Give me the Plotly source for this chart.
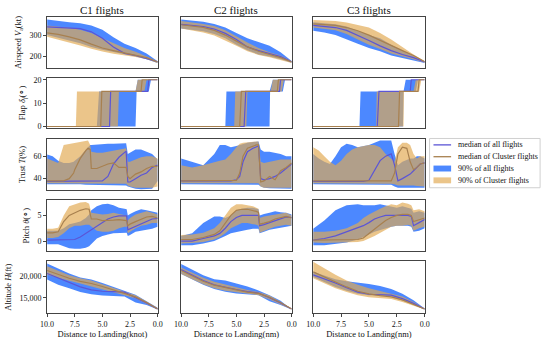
import plotly.graph_objects as go
from plotly.subplots import make_subplots

# ---------------- text ----------------
cluster_titles = ["C1 flights", "C2 flights", "C3 flights"]
x_titles = ["Distance to Landing(knot)", "Distance to Landing(nm)", "Distance to Landing(nm)"]
y_titles = ["Airspeed <i>V</i><sub>a</sub>(kt)", "Flap <i>δ<sub>f</sub></i>(∘)", "Trust <i>T</i>(%)",
            "Pitch <i>θ</i>(∘)", "Altitude <i>H</i>(ft)"]
x_tickvals = [10.0, 7.5, 5.0, 2.5, 0.0]
x_ticktext = ["10.0", "7.5", "5.0", "2.5", "0.0"]
y_tickvals = [[200, 300], [0, 10, 20], [40, 60], [0, 5], [15000, 20000]]
y_ticktext = [["200", "300"], ["0", "10", "20"], ["40", "60"], ["0", "5"], ["15,000", "20,000"]]
y_ranges = [[147, 385], [-0.7, 20.8], [29.7, 75.3], [-2.0, 8.0], [11380, 23460]]
legend_labels = ["median of all flights", "median of Cluster flights", "90% of all flights", "90% of Cluster flights"]

# ---------------- airspeed (kt) ----------------
airspeed_x = [10, 9, 8, 7, 6, 5, 4, 3, 2, 1, 0]
air_all_hi = [[372, 365, 360, 355, 345, 325, 290, 260, 240, 215, 178],
              [372, 368, 362, 352, 335, 310, 285, 268, 250, 220, 180],
              [360, 356, 350, 340, 320, 300, 285, 255, 230, 205, 178]]
air_all_lo = [[300, 288, 275, 262, 245, 232, 222, 210, 200, 188, 170],
              [330, 325, 318, 305, 285, 255, 230, 210, 200, 188, 172],
              [320, 312, 300, 280, 260, 240, 225, 205, 192, 182, 170]]
air_cl_hi = [[345, 340, 334, 325, 310, 285, 262, 240, 222, 200, 178],
             [365, 360, 352, 342, 322, 295, 265, 240, 220, 205, 180],
             [370, 368, 365, 358, 348, 335, 310, 280, 245, 210, 180]]
air_cl_lo = [[292, 280, 266, 252, 236, 224, 213, 205, 198, 188, 170],
             [330, 322, 312, 298, 275, 250, 225, 208, 197, 185, 170],
             [335, 330, 322, 305, 280, 255, 235, 215, 200, 188, 172]]
air_all_med = [[338, 335, 333, 330, 315, 285, 245, 215, 205, 192, 176],
               [350, 345, 340, 328, 308, 280, 245, 228, 215, 200, 176],
               [345, 340, 335, 322, 300, 275, 250, 228, 210, 195, 175]]
air_cl_med = [[310, 303, 292, 278, 258, 240, 228, 217, 207, 195, 175],
              [348, 342, 336, 322, 300, 272, 245, 225, 210, 195, 175],
              [352, 348, 345, 335, 320, 300, 275, 250, 228, 205, 176]]

# ---------------- flap (deg), step vertices (distance, value) ----------------
flap_all_hi = [[(10, 0), (5.5, 0), (5.3, 15), (2.0, 15), (1.8, 20), (0, 20)],
               [(10, 0), (6.0, 0), (5.9, 15), (2.0, 15), (1.7, 20), (0, 20)],
               [(10, 0), (5.85, 0), (5.75, 15), (1.9, 15), (1.7, 20), (0, 20)]]
flap_all_lo = [[(10, 0), (2.0, 0), (1.9, 15), (0.8, 15), (0.6, 20), (0, 20)],
               [(10, 0), (2.0, 0), (1.95, 15), (0.8, 15), (0.6, 20), (0, 20)],
               [(10, 0), (1.95, 0), (1.9, 15), (0.8, 15), (0.6, 20), (0, 20)]]
flap_cl_hi = [[(10, 0), (7.4, 0), (7.3, 15), (2.0, 15), (1.8, 20), (0, 20)],
              [(10, 0), (5.2, 0), (5.1, 15), (1.9, 15), (1.7, 20), (0, 20)],
              [(10, 0), (4.35, 0), (4.3, 15), (1.0, 15), (0.8, 20), (0, 20)]]
flap_cl_lo = [[(10, 0), (3.6, 0), (3.5, 15), (1.2, 15), (1.0, 20), (0, 20)],
              [(10, 0), (4.1, 0), (4.0, 15), (0.9, 15), (0.7, 20), (0, 20)],
              [(10, 0), (1.9, 0), (1.85, 15), (0.5, 15), (0.3, 20), (0, 20)]]
flap_all_med = [[(10, 0), (4.35, 0), (4.25, 15), (0.9, 15), (0.8, 20), (0, 20)],
                [(10, 0), (4.3, 0), (4.15, 15), (1.1, 15), (1.0, 20), (0, 20)],
                [(10, 0), (4.25, 0), (4.1, 15), (1.3, 15), (1.2, 20), (0, 20)]]
flap_cl_med = [[(10, 0), (5.15, 0), (5.05, 15), (1.5, 15), (1.4, 20), (0, 20)],
               [(10, 0), (4.7, 0), (4.55, 15), (1.3, 15), (1.2, 20), (0, 20)],
               [(10, 0), (2.35, 0), (2.25, 15), (0.6, 15), (0.5, 20), (0, 20)]]

# ---------------- thrust (%) ----------------
thrust_x = [[10, 9.5, 9, 8.5, 8, 7.6, 7.5, 7, 6.5, 6.3, 6.1, 6, 5.5, 5, 4.5, 4, 3.5, 3, 2.85, 2.7, 2.5, 2, 1.5, 1, 0.5, 0],
            [10, 9, 8, 7, 6.5, 6, 5.5, 5, 4.7, 4.4, 4, 3.5, 3.2, 3.0, 2.8, 2.5, 2, 1.5, 1, 0.5, 0],
            [10, 9.5, 9, 8.5, 8, 7.5, 7, 6.5, 6, 5.5, 5, 4.5, 4, 3.5, 3, 2.7, 2.4, 2, 1.6, 1.3, 1, 0.7, 0.4, 0]]
thr_all_hi = [[61.5, 60, 56, 54, 54, 55, 56, 60, 66, 68, 70, 70, 70.5, 71, 71, 71, 71, 71.5, 71.5, 62, 63, 66, 66, 64, 62, 57],
              [58, 55, 52, 62, 70, 70, 68, 69, 70, 71, 72, 72.5, 73, 73, 66, 64, 64, 63, 62, 60, 60],
              [62, 58, 55, 53, 60, 68, 71, 70, 68, 69, 70, 72, 74, 74, 74, 62, 52, 55, 57, 58, 58, 60, 60, 58]]
thr_all_lo = [[35, 35, 35, 35, 35, 35, 35, 35, 34.5, 34.5, 34.5, 34.5, 34.5, 34.5, 34.5, 34, 34, 34, 34, 33, 32, 31, 30.5, 30.5, 31, 38],
              [35, 35, 35, 35, 35, 35, 35, 35, 35, 35, 35, 34.5, 34.5, 34.5, 33, 32, 31.5, 31, 31, 31, 31],
              [35, 35, 35, 35, 35, 35, 35, 35, 35, 35, 34.5, 34.5, 34.5, 34.5, 34.5, 33, 32, 32, 32, 32, 32, 32, 32, 32]]
thr_cl_hi = [[58, 56, 54, 70, 71, 72, 72, 73, 74, 74, 70, 64, 63, 63, 64, 65, 66, 67, 67, 55, 55, 57, 59, 60, 60, 58],
             [52, 50, 52, 55, 56, 57, 62, 68, 71, 72, 72.5, 73, 73, 73, 55, 54, 55, 56, 57, 57, 57],
             [68, 65, 60, 55, 52, 56, 62, 66, 68, 69, 70, 70, 68, 62, 58, 55, 68, 72, 72, 70, 62, 58, 60, 60]]
thr_cl_lo = [[36, 36, 36, 36, 36, 36, 36, 35.5, 35.5, 35.5, 35.5, 35.5, 35.5, 35.5, 35.5, 35.5, 35.5, 35.5, 35.5, 34, 33, 32, 32, 32, 32, 33],
             [36, 36, 36, 36, 36, 36, 36, 36, 36, 36, 36, 36, 36, 36, 33, 32, 32, 32, 32, 32, 32],
             [36, 36, 36, 36, 36, 36, 36, 36, 36, 36, 35.5, 35.5, 35.5, 35.5, 35.5, 35, 34, 34, 34, 34, 34, 33.5, 33, 33]]
thr_all_med = [[37.5, 37.5, 37.5, 37.5, 37.5, 37.5, 37.5, 37.5, 37.5, 37.5, 37.5, 37.5, 37.8, 38, 42, 53, 59, 63, 64.5, 37, 37, 40, 43, 45, 50, 52],
               [38, 38, 38, 38, 38, 38, 38, 39, 42, 55, 64, 67, 68, 69, 40, 39, 40, 42, 45, 49, 53],
               [37.5, 37.5, 37.5, 37.5, 37.5, 37.5, 37.5, 37.5, 37.5, 37.5, 38.5, 47, 56, 60, 62, 52, 38, 40, 42, 44, 47, 50, 53, 54]]
thr_cl_med = [[38, 38, 38, 38, 40, 45, 48, 58, 65, 67, 66, 49, 49, 51, 53, 54, 50, 50, 50, 42, 40, 44, 46, 49, 51, 51],
              [38, 38, 38, 38, 38, 38, 38, 38.5, 45, 60, 67, 69, 70, 70, 37, 38, 42, 39, 47, 50, 54],
              [38, 38, 38, 38, 38, 38, 38, 38, 38, 38, 38, 38, 38, 38, 38, 45, 62, 68, 67, 55, 48, 50, 53, 54]]

# ---------------- pitch (deg) ----------------
pitch_x = [[10, 9.5, 9, 8.5, 8, 7.5, 7, 6.5, 6.2, 6, 5.5, 5, 4.5, 4, 3.5, 3, 2.8, 2.7, 2.5, 2, 1.5, 1, 0.5, 0],
           [10, 9, 8, 7, 6.5, 6, 5.5, 5, 4.5, 4, 3.5, 3.2, 3.0, 2.9, 2.5, 2, 1.5, 1, 0.5, 0],
           [10, 9, 8, 7, 6, 5.5, 5, 4.5, 4, 3.5, 3, 2.5, 2, 1.5, 1.2, 1.0, 0.5, 0]]
pit_all_hi = [[2.0, 2.0, 2.0, 2.5, 3.3, 3.5, 3.8, 4.5, 5.2, 6.0, 6.8, 7.2, 7.3, 7.0, 6.5, 6.3, 6.2, 5.0, 5.3, 5.8, 6.2, 6.0, 5.8, 5.5],
              [1.0, 1.5, 3.5, 4.8, 4.8, 4.5, 5.0, 6.0, 6.3, 6.5, 6.5, 6.3, 6.2, 5.0, 5.3, 5.5, 5.8, 5.6, 5.5, 5.2],
              [2.4, 4.0, 6.0, 7.0, 7.2, 7.0, 7.0, 7.0, 7.2, 7.0, 6.8, 6.5, 6.8, 6.5, 6.3, 5.5, 5.8, 5.5]]
pit_all_lo = [[-0.6, -0.6, -0.6, -1.0, -1.4, -1.5, -1.5, -1.3, -1.0, -0.5, 0.5, 1.0, 1.3, 1.5, 1.6, 1.6, 1.6, 1.0, 1.2, 1.8, 2.0, 2.2, 2.4, 2.8],
              [-0.8, -0.8, -0.5, 0.0, 0.5, 1.0, 1.5, 1.8, 2.0, 2.2, 2.4, 2.4, 2.4, 1.5, 1.8, 2.2, 2.4, 2.6, 2.8, 3.0],
              [-0.8, -0.8, -0.6, -0.3, 0.3, 0.8, 1.3, 1.8, 2.2, 2.5, 2.8, 3.0, 3.0, 3.0, 2.8, 1.8, 2.0, 2.5]]
pit_cl_hi = [[2.4, 2.4, 2.6, 5.0, 6.8, 7.2, 7.5, 7.6, 7.3, 5.5, 5.3, 5.2, 5.3, 5.5, 5.3, 5.0, 5.0, 4.0, 4.5, 5.2, 5.5, 5.8, 5.5, 5.2],
             [1.2, 1.3, 1.6, 2.5, 3.5, 5.0, 6.5, 7.2, 7.2, 7.0, 6.8, 6.5, 6.3, 4.5, 4.8, 5.0, 5.2, 5.4, 5.5, 5.0],
             [1.8, 1.8, 2.0, 2.5, 3.5, 4.5, 5.2, 5.8, 6.3, 6.8, 7.2, 7.0, 7.5, 7.3, 7.0, 6.0, 6.2, 5.8]]
pit_cl_lo = [[0.6, 0.6, 0.8, 1.5, 2.5, 3.0, 3.0, 3.2, 3.2, 2.8, 2.0, 1.8, 1.8, 2.0, 2.5, 2.8, 2.8, 1.5, 1.8, 2.5, 3.0, 3.2, 3.5, 3.5],
             [-0.5, -0.4, -0.2, 0.3, 0.8, 1.5, 2.5, 3.0, 3.5, 3.5, 3.3, 3.2, 3.0, 1.6, 2.0, 2.4, 2.8, 3.0, 3.2, 3.0],
             [-0.3, -0.4, -0.4, -0.3, -0.2, 0.0, 0.5, 1.0, 1.5, 2.2, 2.8, 3.0, 3.0, 3.2, 3.0, 2.0, 2.5, 2.8]]
pit_all_med = [[0.2, 0.2, 0.2, 0.2, 0.2, 0.3, 0.8, 1.5, 2.0, 2.2, 3.0, 3.7, 4.3, 4.7, 4.9, 4.9, 4.9, 2.2, 2.4, 2.8, 3.3, 3.8, 4.3, 4.4],
               [0.0, 0.0, 0.5, 1.0, 1.5, 2.5, 3.8, 4.6, 5.0, 5.0, 5.0, 5.0, 5.0, 3.0, 3.2, 3.6, 4.0, 4.3, 4.7, 4.6],
               [0.2, 0.5, 1.0, 1.8, 2.5, 3.0, 3.6, 4.3, 4.7, 5.0, 5.0, 5.0, 5.0, 5.0, 4.8, 3.0, 3.6, 4.2]]
pit_cl_med = [[1.6, 1.6, 1.8, 3.8, 5.0, 5.5, 6.0, 6.3, 6.2, 4.3, 4.3, 4.0, 4.0, 4.1, 4.2, 4.0, 4.0, 3.0, 3.3, 3.8, 4.2, 4.7, 4.8, 4.5],
              [0.3, 0.3, 0.7, 1.3, 2.0, 3.5, 5.0, 6.0, 6.2, 6.2, 6.0, 5.8, 5.6, 3.3, 3.5, 3.8, 4.3, 4.5, 4.8, 4.5],
              [0.2, 0.2, 0.2, 0.2, 0.3, 0.6, 1.5, 2.4, 3.2, 4.0, 4.6, 5.0, 5.2, 5.2, 5.0, 3.8, 4.2, 4.5]]

# ---------------- altitude (ft) ----------------
altitude_x = [10, 9, 8, 7, 6, 5, 4, 3, 2, 1, 0]
alt_all_hi = [[22900, 21800, 20600, 19700, 19200, 18400, 17500, 16700, 15700, 14200, 12700],
              [22800, 21500, 20200, 19300, 19000, 18300, 17600, 16700, 15600, 14300, 12500],
              [21000, 20100, 19300, 18800, 18500, 18200, 17700, 17000, 15900, 14400, 12500]]
alt_all_lo = [[19200, 18000, 17200, 16300, 15800, 15500, 15400, 15300, 13900, 13300, 12300],
              [20500, 19300, 18000, 17000, 16400, 16000, 15800, 15600, 14200, 13300, 12300],
              [19800, 18600, 17500, 16600, 15900, 15600, 15500, 15300, 14300, 13400, 12300]]
alt_cl_hi = [[22300, 21200, 20200, 19500, 19000, 18100, 17300, 16500, 15600, 14100, 12600],
             [22000, 20800, 19600, 18700, 18000, 17400, 16800, 16300, 15500, 14100, 12500],
             [23300, 21800, 20300, 19000, 18000, 17200, 16600, 16000, 15300, 14000, 12500]]
alt_cl_lo = [[20300, 19600, 18900, 18300, 17700, 17000, 16300, 15600, 14800, 13600, 12300],
             [20500, 19300, 18100, 17200, 16600, 16200, 15900, 15600, 14600, 13500, 12300],
             [19500, 18300, 17200, 16300, 15600, 15100, 14900, 14700, 14000, 13200, 12300]]
alt_all_med = [[20600, 19600, 18600, 17500, 16800, 16500, 16400, 16300, 15000, 13800, 12400],
               [21500, 20200, 19000, 18000, 17400, 16900, 16400, 16100, 15000, 13800, 12400],
               [20300, 19400, 18400, 17300, 16300, 15800, 15700, 15600, 14800, 13700, 12400]]
alt_cl_med = [[21300, 20400, 19500, 18800, 18300, 17600, 16800, 16000, 15200, 13900, 12400],
              [21300, 20000, 18800, 17900, 17300, 16800, 16300, 16000, 15100, 13900, 12400],
              [21000, 19800, 18600, 17500, 16500, 15900, 15500, 15200, 14500, 13500, 12400]]

# ---------------- style ----------------
FONT = "Liberation Serif"
W, H = 550, 342
BLUE_FILL = "rgba(45,115,255,0.85)"
ORANGE_FILL = "rgba(225,170,82,0.68)"
MED_ALL = "#5b55d6"
MED_CL = "#a8804f"
col_px = [(41, 154), (178, 291), (313, 427)]
row_px = [(15, 67), (77, 128), (139, 191), (201, 253), (263, 316)]

fig = make_subplots(rows=5, cols=3)


def band(xh, yh, xl, yl, color, r, c):
    fig.add_trace(go.Scatter(x=list(xh) + list(xl)[::-1], y=list(yh) + list(yl)[::-1],
                             mode="lines", fill="toself", fillcolor=color, line=dict(width=0),
                             hoverinfo="skip", showlegend=False), row=r, col=c)


def curve(x, y, color, r, c):
    fig.add_trace(go.Scatter(x=x, y=y, mode="lines", line=dict(color=color, width=1.2),
                             hoverinfo="skip", showlegend=False), row=r, col=c)


def xs(v):
    return [p[0] for p in v]


def ys(v):
    return [p[1] for p in v]


for c in range(3):
    band(airspeed_x, air_all_hi[c], airspeed_x, air_all_lo[c], BLUE_FILL, 1, c + 1)
    band(airspeed_x, air_cl_hi[c], airspeed_x, air_cl_lo[c], ORANGE_FILL, 1, c + 1)
    curve(airspeed_x, air_all_med[c], MED_ALL, 1, c + 1)
    curve(airspeed_x, air_cl_med[c], MED_CL, 1, c + 1)

    band(xs(flap_all_hi[c]), ys(flap_all_hi[c]), xs(flap_all_lo[c]), ys(flap_all_lo[c]), BLUE_FILL, 2, c + 1)
    band(xs(flap_cl_hi[c]), ys(flap_cl_hi[c]), xs(flap_cl_lo[c]), ys(flap_cl_lo[c]), ORANGE_FILL, 2, c + 1)
    curve(xs(flap_all_med[c]), ys(flap_all_med[c]), MED_ALL, 2, c + 1)
    curve(xs(flap_cl_med[c]), ys(flap_cl_med[c]), MED_CL, 2, c + 1)

    tx = thrust_x[c]
    band(tx, thr_all_hi[c], tx, thr_all_lo[c], BLUE_FILL, 3, c + 1)
    band(tx, thr_cl_hi[c], tx, thr_cl_lo[c], ORANGE_FILL, 3, c + 1)
    curve(tx, thr_all_med[c], MED_ALL, 3, c + 1)
    curve(tx, thr_cl_med[c], MED_CL, 3, c + 1)

    px = pitch_x[c]
    band(px, pit_all_hi[c], px, pit_all_lo[c], BLUE_FILL, 4, c + 1)
    band(px, pit_cl_hi[c], px, pit_cl_lo[c], ORANGE_FILL, 4, c + 1)
    curve(px, pit_all_med[c], MED_ALL, 4, c + 1)
    curve(px, pit_cl_med[c], MED_CL, 4, c + 1)

    band(altitude_x, alt_all_hi[c], altitude_x, alt_all_lo[c], BLUE_FILL, 5, c + 1)
    band(altitude_x, alt_cl_hi[c], altitude_x, alt_cl_lo[c], ORANGE_FILL, 5, c + 1)
    curve(altitude_x, alt_all_med[c], MED_ALL, 5, c + 1)
    curve(altitude_x, alt_cl_med[c], MED_CL, 5, c + 1)

for r in range(5):
    for c in range(3):
        n = r * 3 + c + 1
        xa = "xaxis" if n == 1 else f"xaxis{n}"
        ya = "yaxis" if n == 1 else f"yaxis{n}"
        bottom = (r == 4)
        fig.layout[xa].update(
            domain=[col_px[c][0] / W, col_px[c][1] / W], range=[10, 0],
            showline=True, mirror=True, linecolor="#444", linewidth=1,
            showgrid=False, zeroline=False,
            ticks="outside" if bottom else "", ticklen=3, tickcolor="#444",
            showticklabels=bottom, tickvals=x_tickvals, ticktext=x_ticktext,
            tickfont=dict(size=8, color="#111"))
        if bottom:
            fig.layout[xa].title = dict(text=x_titles[c], font=dict(size=8.5, color="#111"), standoff=2)
        fig.layout[ya].update(
            domain=[1 - row_px[r][1] / H, 1 - row_px[r][0] / H], range=y_ranges[r],
            showline=True, mirror=True, linecolor="#444", linewidth=1,
            showgrid=False, zeroline=False,
            ticks="outside" if c == 0 else "", ticklen=3, tickcolor="#444",
            showticklabels=(c == 0), tickvals=y_tickvals[r], ticktext=y_ticktext[r],
            tickfont=dict(size=8, color="#111"))
        if c == 0:
            fig.layout[ya].title = dict(text=y_titles[r], font=dict(size=8.5, color="#111"), standoff=6)

annotations = []
for c in range(3):
    annotations.append(dict(text=cluster_titles[c], x=(col_px[c][0] + col_px[c][1]) / 2 / W, y=1 - 8 / H,
                            xref="paper", yref="paper", showarrow=False, xanchor="center", yanchor="middle",
                            font=dict(size=11, color="#111")))

# legend box drawn by hand (matches the compact original legend)
shapes = [dict(type="rect", xref="paper", yref="paper", x0=432 / W, x1=545 / W,
               y0=1 - 188.5 / H, y1=1 - 138.5 / H, line=dict(color="#d0d0d0", width=1), fillcolor="white")]
leg_y = [145, 157, 169, 181]
shapes.append(dict(type="line", xref="paper", yref="paper", x0=436 / W, x1=454 / W,
                   y0=1 - leg_y[0] / H, y1=1 - leg_y[0] / H, line=dict(color=MED_ALL, width=1.3)))
shapes.append(dict(type="line", xref="paper", yref="paper", x0=436 / W, x1=454 / W,
                   y0=1 - leg_y[1] / H, y1=1 - leg_y[1] / H, line=dict(color=MED_CL, width=1.3)))
shapes.append(dict(type="rect", xref="paper", yref="paper", x0=436 / W, x1=454 / W,
                   y0=1 - (leg_y[2] + 3) / H, y1=1 - (leg_y[2] - 3) / H, line=dict(width=0), fillcolor=BLUE_FILL))
shapes.append(dict(type="rect", xref="paper", yref="paper", x0=436 / W, x1=454 / W,
                   y0=1 - (leg_y[3] + 3) / H, y1=1 - (leg_y[3] - 3) / H, line=dict(width=0), fillcolor=ORANGE_FILL))
for i, lab in enumerate(legend_labels):
    annotations.append(dict(text=lab, x=459 / W, y=1 - leg_y[i] / H, xref="paper", yref="paper",
                            showarrow=False, xanchor="left", yanchor="middle",
                            font=dict(size=8, color="#111")))

fig.update_layout(width=W, height=H, margin=dict(l=0, r=0, t=0, b=0),
                  paper_bgcolor="white", plot_bgcolor="white",
                  font=dict(family=FONT, size=8, color="#111"),
                  showlegend=False, annotations=annotations, shapes=shapes)

fig.write_html("out.html", config={"displayModeBar": False},
               post_script="document.body.style.margin='0px';")
